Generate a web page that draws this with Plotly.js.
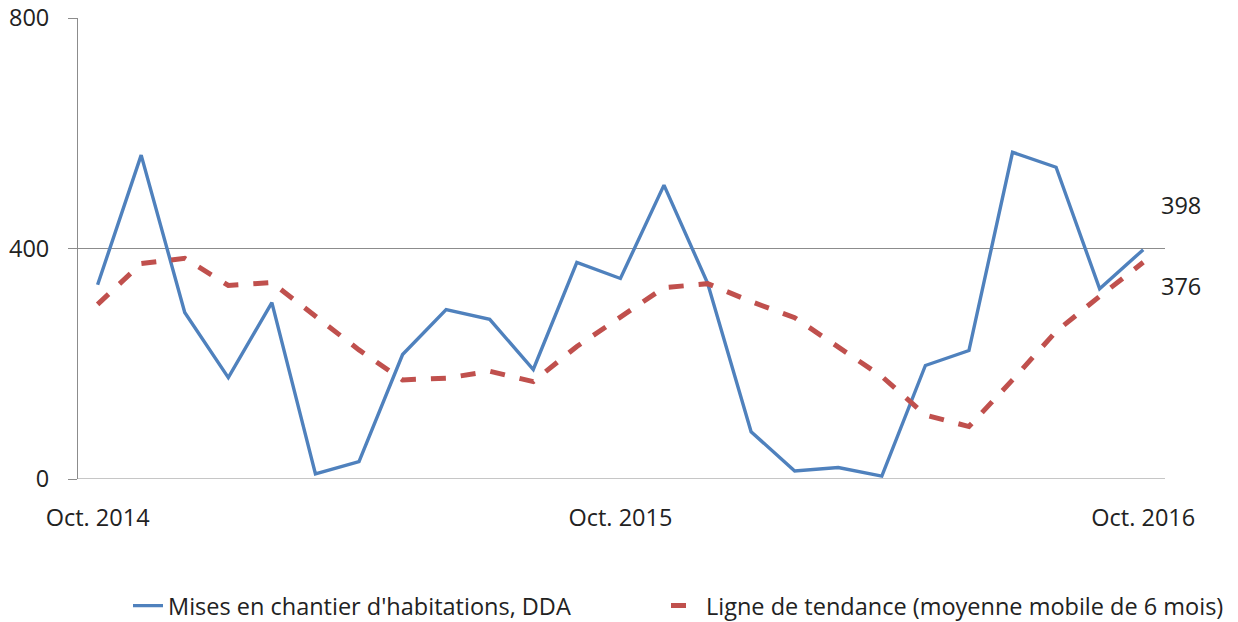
<!DOCTYPE html>
<html>
<head>
<meta charset="utf-8">
<script src="https://cdn.plot.ly/plotly-3.0.1.min.js"></script>
<style>html,body{margin:0;padding:0;background:#fff;}#chart{width:1238px;height:622px;}</style>
</head>
<body>
<div id="chart"></div>
<script>
const months = ["Oct. 2014","Nov. 2014","Déc. 2014","Janv. 2015","Févr. 2015","Mars 2015","Avr. 2015","Mai 2015","Juin 2015","Juil. 2015","Août 2015","Sept. 2015",
  "Oct. 2015","Nov. 2015","Déc. 2015","Janv. 2016","Févr. 2016","Mars 2016","Avr. 2016","Mai 2016","Juin 2016","Juil. 2016","Août 2016","Sept. 2016","Oct. 2016"];
const miseEnChantier = [337,562,289,176,306,9,30,216,294,277,190,376,348,510,340,82,14,20,5,197,223,567,541,330,398];
const tendance = [303,374,383,336,341,282,224,172,175,187,169,230,282,332,339,308,280,230,178,111,91,172,256,317,376];
const tickLabels = ["Oct. 2014","Oct. 2015","Oct. 2016"];
const seriesNames = ["Mises en chantier d'habitations, DDA","Ligne de tendance (moyenne mobile de 6 mois)"];
const endLabels = ["398","376"];

const font = "Open Sans, Lato, sans-serif";
const fs = 23.5;
const legendBase = {orientation: "h", xref: "container", yref: "container", xanchor: "left",
           y: 0.026, yanchor: "middle", font: {family: font, size: fs, color: "#222"}};
const traces = [
  {x: months, y: miseEnChantier, type: "scatter", mode: "lines", name: seriesNames[0],
   line: {color: "#4F81BD", width: 3.4}, legend: "legend"},
  {x: months, y: tendance, type: "scatter", mode: "lines", name: seriesNames[1],
   line: {color: "#C0504D", width: 5, dash: "dash"}, legend: "legend2"}
];
const layout = {
  width: 1238, height: 622,
  margin: {l: 78, r: 73, t: 18, b: 143, autoexpand: false},
  paper_bgcolor: "#fff", plot_bgcolor: "#fff",
  font: {family: font, size: fs, color: "#222"},
  showlegend: true,
  legend: Object.assign({}, legendBase, {x: 128 / 1238}),
  legend2: Object.assign({}, legendBase, {x: 666 / 1238}),
  xaxis: {type: "category", range: [-0.45, 24.5], showgrid: false, zeroline: false,
          showline: false, tickvals: tickLabels, ticktext: tickLabels, ticks: "",
          ticklabelstandoff: 22, tickfont: {family: font, size: fs, color: "#222"}, automargin: false},
  yaxis: {range: [0, 800], tickvals: [0, 400, 800], showgrid: true, gridcolor: "#8c8c8c", gridwidth: 1,
          zeroline: false, showline: true, linecolor: "#8c8c8c", linewidth: 1,
          ticks: "outside", ticklen: 9, tickcolor: "#8c8c8c", ticklabelstandoff: 14, automargin: false,
          tickfont: {family: font, size: fs, color: "#222"}},
  shapes: [{type: "line", xref: "paper", yref: "y", x0: 0, x1: 1, y0: 0, y1: 0,
            line: {color: "#8c8c8c", width: 1}}],
  annotations: [
    {xref: "paper", yref: "y", x: 1.0, y: miseEnChantier[24], text: endLabels[0], showarrow: false,
     xanchor: "left", xshift: -6, yshift: 45, font: {family: font, size: fs, color: "#222"}},
    {xref: "paper", yref: "y", x: 1.0, y: tendance[24], text: endLabels[1], showarrow: false,
     xanchor: "left", xshift: -6, yshift: -24, font: {family: font, size: fs, color: "#222"}}
  ]
};
Plotly.newPlot("chart", traces, layout, {displayModeBar: false, staticPlot: true});
</script>
</body>
</html>
